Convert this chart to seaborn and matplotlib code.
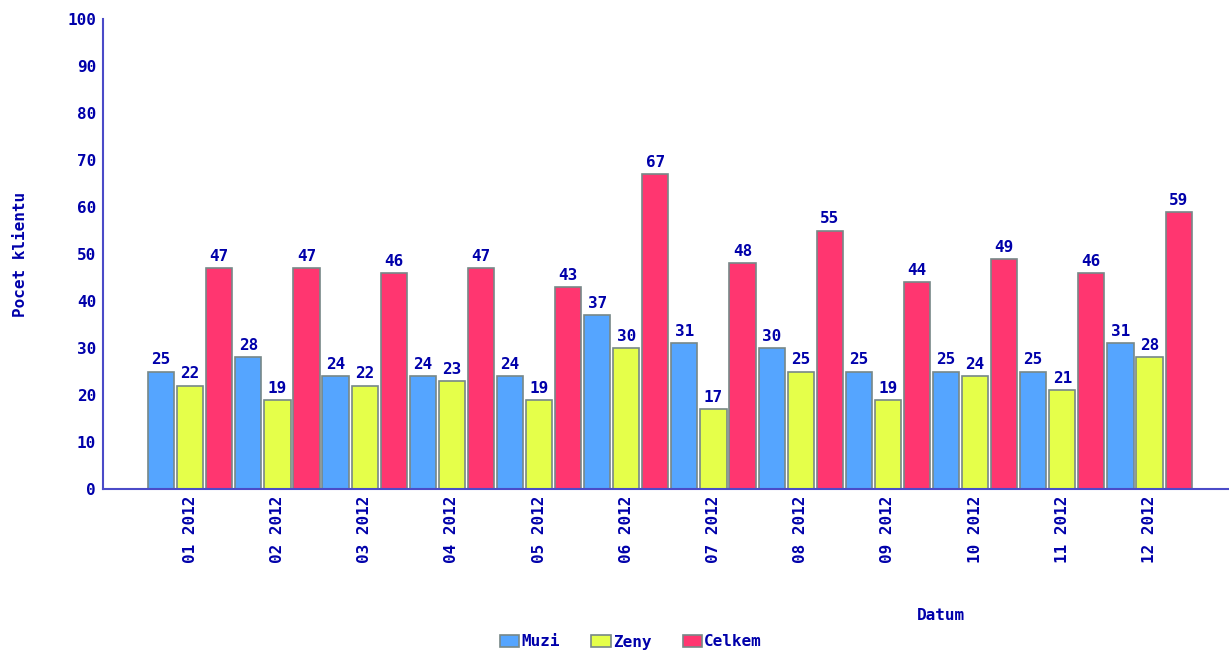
import matplotlib
matplotlib.use("Agg")
import matplotlib.pyplot as plt
import seaborn as sns
import pandas as pd
from matplotlib.patches import Patch

months = ["01 2012", "02 2012", "03 2012", "04 2012", "05 2012", "06 2012",
          "07 2012", "08 2012", "09 2012", "10 2012", "11 2012", "12 2012"]
muzi = [25, 28, 24, 24, 24, 37, 31, 30, 25, 25, 25, 31]
zeny = [22, 19, 22, 23, 19, 30, 17, 25, 19, 24, 21, 28]
celkem = [47, 47, 46, 47, 43, 67, 48, 55, 44, 49, 46, 59]
series_names = ["Muzi", "Zeny", "Celkem"]
colors = ["#55A5FF", "#E5FF4A", "#FF3670"]

rows = []
for name, vals in zip(series_names, [muzi, zeny, celkem]):
    for m, v in zip(months, vals):
        rows.append({"Datum": m, "value": v, "series": name})
df = pd.DataFrame(rows)

sns.set_style("white")
plt.rcParams['font.family'] = ['DejaVu Sans Mono']
plt.rcParams['font.weight'] = 'bold'

TXT = "#0000AA"
AX = "#4B4BC8"
EDGE = "#778888"
FS = 11.5

fig = plt.figure(figsize=(12.29, 6.5), dpi=100)
W, H = 1229, 650
ax = fig.add_axes([103 / W, (H - 489) / H, (1228 - 103) / W, (489 - 19) / H])

sns.barplot(data=df, x="Datum", y="value", hue="series", hue_order=series_names,
            palette=colors, width=1.0, gap=0.1, edgecolor=EDGE, linewidth=1.2,
            saturation=1, legend=False, ax=ax)

for cont in ax.containers:
    ax.bar_label(cont, padding=3, color=TXT, fontsize=FS, fontweight='bold')

ax.set_ylim(0, 100)
ax.set_xlim(-1.0, 11.9)
ax.set_yticks(range(0, 101, 10))
ax.set_xlabel("")
ax.set_ylabel("Pocet klientu", color=TXT, fontsize=FS, fontweight='bold', labelpad=28)
for s in ["top", "right"]:
    ax.spines[s].set_visible(False)
for s in ["left", "bottom"]:
    ax.spines[s].set_color(AX)
    ax.spines[s].set_linewidth(1.5)
ax.tick_params(axis='y', direction='in', length=6, width=1.5, color=AX,
               labelcolor=TXT, labelsize=FS, pad=5)
ax.tick_params(axis='x', length=0, labelcolor=TXT, labelsize=FS, pad=5,
               labelrotation=90)
ax.grid(False)

fig.text(941 / W, 1 - 616 / H, "Datum", color=TXT, fontsize=FS, fontweight='bold',
         ha='center', va='center')

handles = [Patch(facecolor=c, edgecolor=EDGE, linewidth=1.2, label=n)
           for c, n in zip(colors, series_names)]
leg = fig.legend(handles=handles, loc='center', bbox_to_anchor=(631 / W, 1 - 642 / H),
                 ncol=3, frameon=False, fontsize=FS, handlelength=1.2,
                 handleheight=0.8, handletextpad=0.15, columnspacing=1.95,
                 borderaxespad=0)
for t in leg.get_texts():
    t.set_color(TXT)
    t.set_fontweight('bold')

fig.savefig("out.png", dpi=100, facecolor="white")
